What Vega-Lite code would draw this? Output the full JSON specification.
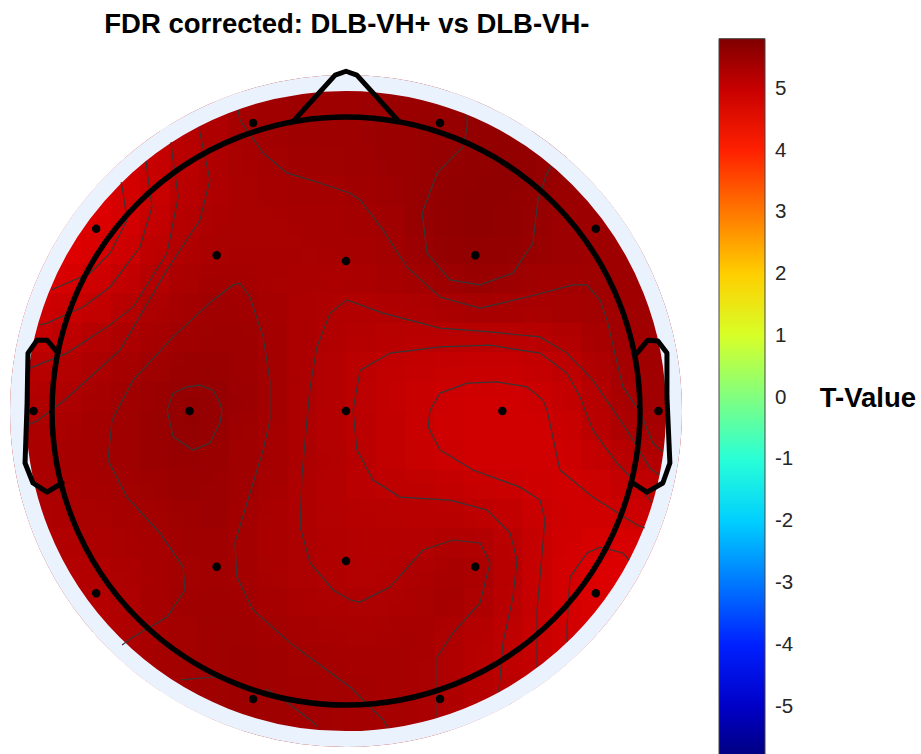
{
"$schema": "https://vega.github.io/schema/vega-lite/v6.json",
"width": 676, "height": 676,
"autosize": {"type": "none"},
"padding": {"left": 8, "top": 73, "right": 237, "bottom": 5},
"background": "white",
"config": {"view": {"stroke": null}},
"datasets": {
"center": [{"x": 0, "y": 0}],
"lab": [{"txt": "T-Value", "x": 1.612, "y": 0.0136}],
"ttl": [{"txt": "FDR corrected: DLB-VH+ vs DLB-VH-", "x": 0.003, "y": 1.2857}],
"heat": [
{"x":-0.3,"y":1.1,"t":5.42},{"x":-0.2,"y":1.1,"t":5.44},{"x":-0.1,"y":1.1,"t":5.46},{"x":0,"y":1.1,"t":5.47},{"x":0.1,"y":1.1,"t":5.48},{"x":0.2,"y":1.1,"t":5.5},{"x":0.3,"y":1.1,"t":5.52},
{"x":-0.5,"y":1,"t":5.25},{"x":-0.4,"y":1,"t":5.32},{"x":-0.3,"y":1,"t":5.42},{"x":-0.2,"y":1,"t":5.44},{"x":-0.1,"y":1,"t":5.46},{"x":0,"y":1,"t":5.47},{"x":0.1,"y":1,"t":5.48},{"x":0.2,"y":1,"t":5.5},{"x":0.3,"y":1,"t":5.52},{"x":0.4,"y":1,"t":5.55},{"x":0.5,"y":1,"t":5.58},
{"x":-0.7,"y":0.9,"t":4.95},{"x":-0.6,"y":0.9,"t":5.08},{"x":-0.5,"y":0.9,"t":5.22},{"x":-0.4,"y":0.9,"t":5.32},{"x":-0.3,"y":0.9,"t":5.4},{"x":-0.2,"y":0.9,"t":5.44},{"x":-0.1,"y":0.9,"t":5.46},{"x":0,"y":0.9,"t":5.47},{"x":0.1,"y":0.9,"t":5.48},{"x":0.2,"y":0.9,"t":5.5},{"x":0.3,"y":0.9,"t":5.52},{"x":0.4,"y":0.9,"t":5.55},{"x":0.5,"y":0.9,"t":5.59},{"x":0.6,"y":0.9,"t":5.6},{"x":0.7,"y":0.9,"t":5.52},
{"x":-0.8,"y":0.8,"t":4.8},{"x":-0.7,"y":0.8,"t":4.88},{"x":-0.6,"y":0.8,"t":5.05},{"x":-0.5,"y":0.8,"t":5.18},{"x":-0.4,"y":0.8,"t":5.3},{"x":-0.3,"y":0.8,"t":5.35},{"x":-0.2,"y":0.8,"t":5.4},{"x":-0.1,"y":0.8,"t":5.43},{"x":0,"y":0.8,"t":5.44},{"x":0.1,"y":0.8,"t":5.46},{"x":0.2,"y":0.8,"t":5.5},{"x":0.3,"y":0.8,"t":5.55},{"x":0.4,"y":0.8,"t":5.6},{"x":0.5,"y":0.8,"t":5.62},{"x":0.6,"y":0.8,"t":5.61},{"x":0.7,"y":0.8,"t":5.55},{"x":0.8,"y":0.8,"t":5.5},
{"x":-0.9,"y":0.7,"t":4.66},{"x":-0.8,"y":0.7,"t":4.75},{"x":-0.7,"y":0.7,"t":4.87},{"x":-0.6,"y":0.7,"t":5.05},{"x":-0.5,"y":0.7,"t":5.22},{"x":-0.4,"y":0.7,"t":5.3},{"x":-0.3,"y":0.7,"t":5.33},{"x":-0.2,"y":0.7,"t":5.35},{"x":-0.1,"y":0.7,"t":5.36},{"x":0,"y":0.7,"t":5.37},{"x":0.1,"y":0.7,"t":5.43},{"x":0.2,"y":0.7,"t":5.48},{"x":0.3,"y":0.7,"t":5.57},{"x":0.4,"y":0.7,"t":5.62},{"x":0.5,"y":0.7,"t":5.62},{"x":0.6,"y":0.7,"t":5.6},{"x":0.7,"y":0.7,"t":5.52},{"x":0.8,"y":0.7,"t":5.48},{"x":0.9,"y":0.7,"t":5.45},
{"x":-1,"y":0.6,"t":4.68},{"x":-0.9,"y":0.6,"t":4.72},{"x":-0.8,"y":0.6,"t":4.78},{"x":-0.7,"y":0.6,"t":4.93},{"x":-0.6,"y":0.6,"t":5.1},{"x":-0.5,"y":0.6,"t":5.27},{"x":-0.4,"y":0.6,"t":5.33},{"x":-0.3,"y":0.6,"t":5.34},{"x":-0.2,"y":0.6,"t":5.34},{"x":-0.1,"y":0.6,"t":5.35},{"x":0,"y":0.6,"t":5.36},{"x":0.1,"y":0.6,"t":5.39},{"x":0.2,"y":0.6,"t":5.45},{"x":0.3,"y":0.6,"t":5.56},{"x":0.4,"y":0.6,"t":5.61},{"x":0.5,"y":0.6,"t":5.61},{"x":0.6,"y":0.6,"t":5.57},{"x":0.7,"y":0.6,"t":5.5},{"x":0.8,"y":0.6,"t":5.47},{"x":0.9,"y":0.6,"t":5.45},{"x":1,"y":0.6,"t":5.44},
{"x":-1,"y":0.5,"t":4.7},{"x":-0.9,"y":0.5,"t":4.76},{"x":-0.8,"y":0.5,"t":4.85},{"x":-0.7,"y":0.5,"t":5.0},{"x":-0.6,"y":0.5,"t":5.2},{"x":-0.5,"y":0.5,"t":5.32},{"x":-0.4,"y":0.5,"t":5.35},{"x":-0.3,"y":0.5,"t":5.35},{"x":-0.2,"y":0.5,"t":5.35},{"x":-0.1,"y":0.5,"t":5.34},{"x":0,"y":0.5,"t":5.34},{"x":0.1,"y":0.5,"t":5.36},{"x":0.2,"y":0.5,"t":5.4},{"x":0.3,"y":0.5,"t":5.52},{"x":0.4,"y":0.5,"t":5.58},{"x":0.5,"y":0.5,"t":5.59},{"x":0.6,"y":0.5,"t":5.55},{"x":0.7,"y":0.5,"t":5.5},{"x":0.8,"y":0.5,"t":5.47},{"x":0.9,"y":0.5,"t":5.45},{"x":1,"y":0.5,"t":5.45},
{"x":-1.1,"y":0.4,"t":4.8},{"x":-1,"y":0.4,"t":4.83},{"x":-0.9,"y":0.4,"t":4.9},{"x":-0.8,"y":0.4,"t":5.0},{"x":-0.7,"y":0.4,"t":5.15},{"x":-0.6,"y":0.4,"t":5.3},{"x":-0.5,"y":0.4,"t":5.36},{"x":-0.4,"y":0.4,"t":5.4},{"x":-0.3,"y":0.4,"t":5.36},{"x":-0.2,"y":0.4,"t":5.32},{"x":-0.1,"y":0.4,"t":5.3},{"x":0,"y":0.4,"t":5.27},{"x":0.1,"y":0.4,"t":5.3},{"x":0.2,"y":0.4,"t":5.33},{"x":0.3,"y":0.4,"t":5.39},{"x":0.4,"y":0.4,"t":5.45},{"x":0.5,"y":0.4,"t":5.47},{"x":0.6,"y":0.4,"t":5.42},{"x":0.7,"y":0.4,"t":5.38},{"x":0.8,"y":0.4,"t":5.4},{"x":0.9,"y":0.4,"t":5.45},{"x":1,"y":0.4,"t":5.46},{"x":1.1,"y":0.4,"t":5.46},
{"x":-1.1,"y":0.3,"t":4.93},{"x":-1,"y":0.3,"t":4.97},{"x":-0.9,"y":0.3,"t":5.03},{"x":-0.8,"y":0.3,"t":5.12},{"x":-0.7,"y":0.3,"t":5.28},{"x":-0.6,"y":0.3,"t":5.35},{"x":-0.5,"y":0.3,"t":5.41},{"x":-0.4,"y":0.3,"t":5.45},{"x":-0.3,"y":0.3,"t":5.4},{"x":-0.2,"y":0.3,"t":5.33},{"x":-0.1,"y":0.3,"t":5.28},{"x":0,"y":0.3,"t":5.22},{"x":0.1,"y":0.3,"t":5.22},{"x":0.2,"y":0.3,"t":5.24},{"x":0.3,"y":0.3,"t":5.25},{"x":0.4,"y":0.3,"t":5.3},{"x":0.5,"y":0.3,"t":5.32},{"x":0.6,"y":0.3,"t":5.3},{"x":0.7,"y":0.3,"t":5.32},{"x":0.8,"y":0.3,"t":5.36},{"x":0.9,"y":0.3,"t":5.4},{"x":1,"y":0.3,"t":5.44},{"x":1.1,"y":0.3,"t":5.45},
{"x":-1.1,"y":0.2,"t":5.05},{"x":-1,"y":0.2,"t":5.08},{"x":-0.9,"y":0.2,"t":5.18},{"x":-0.8,"y":0.2,"t":5.29},{"x":-0.7,"y":0.2,"t":5.35},{"x":-0.6,"y":0.2,"t":5.42},{"x":-0.5,"y":0.2,"t":5.47},{"x":-0.4,"y":0.2,"t":5.48},{"x":-0.3,"y":0.2,"t":5.45},{"x":-0.2,"y":0.2,"t":5.35},{"x":-0.1,"y":0.2,"t":5.26},{"x":0,"y":0.2,"t":5.2},{"x":0.1,"y":0.2,"t":5.17},{"x":0.2,"y":0.2,"t":5.12},{"x":0.3,"y":0.2,"t":5.1},{"x":0.4,"y":0.2,"t":5.08},{"x":0.5,"y":0.2,"t":5.08},{"x":0.6,"y":0.2,"t":5.09},{"x":0.7,"y":0.2,"t":5.1},{"x":0.8,"y":0.2,"t":5.22},{"x":0.9,"y":0.2,"t":5.38},{"x":1,"y":0.2,"t":5.44},{"x":1.1,"y":0.2,"t":5.45},
{"x":-1.1,"y":0.1,"t":5.17},{"x":-1,"y":0.1,"t":5.2},{"x":-0.9,"y":0.1,"t":5.28},{"x":-0.8,"y":0.1,"t":5.35},{"x":-0.7,"y":0.1,"t":5.42},{"x":-0.6,"y":0.1,"t":5.5},{"x":-0.5,"y":0.1,"t":5.55},{"x":-0.4,"y":0.1,"t":5.5},{"x":-0.3,"y":0.1,"t":5.44},{"x":-0.2,"y":0.1,"t":5.36},{"x":-0.1,"y":0.1,"t":5.25},{"x":0,"y":0.1,"t":5.18},{"x":0.1,"y":0.1,"t":5.05},{"x":0.2,"y":0.1,"t":5.0},{"x":0.3,"y":0.1,"t":4.97},{"x":0.4,"y":0.1,"t":4.95},{"x":0.5,"y":0.1,"t":4.95},{"x":0.6,"y":0.1,"t":4.95},{"x":0.7,"y":0.1,"t":5.02},{"x":0.8,"y":0.1,"t":5.1},{"x":0.9,"y":0.1,"t":5.32},{"x":1,"y":0.1,"t":5.42},{"x":1.1,"y":0.1,"t":5.44},
{"x":-1.1,"y":0,"t":5.24},{"x":-1,"y":0,"t":5.27},{"x":-0.9,"y":0,"t":5.32},{"x":-0.8,"y":0,"t":5.4},{"x":-0.7,"y":0,"t":5.45},{"x":-0.6,"y":0,"t":5.55},{"x":-0.5,"y":0,"t":5.6},{"x":-0.4,"y":0,"t":5.52},{"x":-0.3,"y":0,"t":5.45},{"x":-0.2,"y":0,"t":5.35},{"x":-0.1,"y":0,"t":5.26},{"x":0,"y":0,"t":5.18},{"x":0.1,"y":0,"t":5.07},{"x":0.2,"y":0,"t":5.0},{"x":0.3,"y":0,"t":4.95},{"x":0.4,"y":0,"t":4.88},{"x":0.5,"y":0,"t":4.86},{"x":0.6,"y":0,"t":4.88},{"x":0.7,"y":0,"t":4.95},{"x":0.8,"y":0,"t":5.05},{"x":0.9,"y":0,"t":5.24},{"x":1,"y":0,"t":5.4},{"x":1.1,"y":0,"t":5.43},
{"x":-1.1,"y":-0.1,"t":5.3},{"x":-1,"y":-0.1,"t":5.32},{"x":-0.9,"y":-0.1,"t":5.36},{"x":-0.8,"y":-0.1,"t":5.4},{"x":-0.7,"y":-0.1,"t":5.47},{"x":-0.6,"y":-0.1,"t":5.55},{"x":-0.5,"y":-0.1,"t":5.57},{"x":-0.4,"y":-0.1,"t":5.5},{"x":-0.3,"y":-0.1,"t":5.42},{"x":-0.2,"y":-0.1,"t":5.34},{"x":-0.1,"y":-0.1,"t":5.24},{"x":0,"y":-0.1,"t":5.17},{"x":0.1,"y":-0.1,"t":5.08},{"x":0.2,"y":-0.1,"t":5.02},{"x":0.3,"y":-0.1,"t":4.95},{"x":0.4,"y":-0.1,"t":4.88},{"x":0.5,"y":-0.1,"t":4.87},{"x":0.6,"y":-0.1,"t":4.88},{"x":0.7,"y":-0.1,"t":4.9},{"x":0.8,"y":-0.1,"t":5.0},{"x":0.9,"y":-0.1,"t":5.2},{"x":1,"y":-0.1,"t":5.32},{"x":1.1,"y":-0.1,"t":5.38},
{"x":-1.1,"y":-0.2,"t":5.3},{"x":-1,"y":-0.2,"t":5.33},{"x":-0.9,"y":-0.2,"t":5.36},{"x":-0.8,"y":-0.2,"t":5.4},{"x":-0.7,"y":-0.2,"t":5.46},{"x":-0.6,"y":-0.2,"t":5.5},{"x":-0.5,"y":-0.2,"t":5.52},{"x":-0.4,"y":-0.2,"t":5.48},{"x":-0.3,"y":-0.2,"t":5.4},{"x":-0.2,"y":-0.2,"t":5.33},{"x":-0.1,"y":-0.2,"t":5.26},{"x":0,"y":-0.2,"t":5.2},{"x":0.1,"y":-0.2,"t":5.1},{"x":0.2,"y":-0.2,"t":5.02},{"x":0.3,"y":-0.2,"t":4.97},{"x":0.4,"y":-0.2,"t":4.93},{"x":0.5,"y":-0.2,"t":4.9},{"x":0.6,"y":-0.2,"t":4.88},{"x":0.7,"y":-0.2,"t":4.88},{"x":0.8,"y":-0.2,"t":4.93},{"x":0.9,"y":-0.2,"t":5.05},{"x":1,"y":-0.2,"t":5.15},{"x":1.1,"y":-0.2,"t":5.2},
{"x":-1.1,"y":-0.3,"t":5.28},{"x":-1,"y":-0.3,"t":5.3},{"x":-0.9,"y":-0.3,"t":5.33},{"x":-0.8,"y":-0.3,"t":5.37},{"x":-0.7,"y":-0.3,"t":5.4},{"x":-0.6,"y":-0.3,"t":5.46},{"x":-0.5,"y":-0.3,"t":5.5},{"x":-0.4,"y":-0.3,"t":5.48},{"x":-0.3,"y":-0.3,"t":5.4},{"x":-0.2,"y":-0.3,"t":5.3},{"x":-0.1,"y":-0.3,"t":5.23},{"x":0,"y":-0.3,"t":5.18},{"x":0.1,"y":-0.3,"t":5.12},{"x":0.2,"y":-0.3,"t":5.1},{"x":0.3,"y":-0.3,"t":5.1},{"x":0.4,"y":-0.3,"t":5.05},{"x":0.5,"y":-0.3,"t":5.02},{"x":0.6,"y":-0.3,"t":4.97},{"x":0.7,"y":-0.3,"t":4.9},{"x":0.8,"y":-0.3,"t":4.88},{"x":0.9,"y":-0.3,"t":4.93},{"x":1,"y":-0.3,"t":5.0},{"x":1.1,"y":-0.3,"t":5.03},
{"x":-1.1,"y":-0.4,"t":5.25},{"x":-1,"y":-0.4,"t":5.27},{"x":-0.9,"y":-0.4,"t":5.3},{"x":-0.8,"y":-0.4,"t":5.33},{"x":-0.7,"y":-0.4,"t":5.37},{"x":-0.6,"y":-0.4,"t":5.4},{"x":-0.5,"y":-0.4,"t":5.45},{"x":-0.4,"y":-0.4,"t":5.45},{"x":-0.3,"y":-0.4,"t":5.35},{"x":-0.2,"y":-0.4,"t":5.3},{"x":-0.1,"y":-0.4,"t":5.25},{"x":0,"y":-0.4,"t":5.22},{"x":0.1,"y":-0.4,"t":5.2},{"x":0.2,"y":-0.4,"t":5.2},{"x":0.3,"y":-0.4,"t":5.17},{"x":0.4,"y":-0.4,"t":5.18},{"x":0.5,"y":-0.4,"t":5.12},{"x":0.6,"y":-0.4,"t":5.05},{"x":0.7,"y":-0.4,"t":4.95},{"x":0.8,"y":-0.4,"t":4.88},{"x":0.9,"y":-0.4,"t":4.88},{"x":1,"y":-0.4,"t":4.92},{"x":1.1,"y":-0.4,"t":4.95},
{"x":-1,"y":-0.5,"t":5.22},{"x":-0.9,"y":-0.5,"t":5.24},{"x":-0.8,"y":-0.5,"t":5.3},{"x":-0.7,"y":-0.5,"t":5.35},{"x":-0.6,"y":-0.5,"t":5.38},{"x":-0.5,"y":-0.5,"t":5.43},{"x":-0.4,"y":-0.5,"t":5.42},{"x":-0.3,"y":-0.5,"t":5.35},{"x":-0.2,"y":-0.5,"t":5.3},{"x":-0.1,"y":-0.5,"t":5.26},{"x":0,"y":-0.5,"t":5.22},{"x":0.1,"y":-0.5,"t":5.2},{"x":0.2,"y":-0.5,"t":5.22},{"x":0.3,"y":-0.5,"t":5.25},{"x":0.4,"y":-0.5,"t":5.33},{"x":0.5,"y":-0.5,"t":5.25},{"x":0.6,"y":-0.5,"t":5.1},{"x":0.7,"y":-0.5,"t":4.95},{"x":0.8,"y":-0.5,"t":4.82},{"x":0.9,"y":-0.5,"t":4.78},{"x":1,"y":-0.5,"t":4.75},
{"x":-1,"y":-0.6,"t":5.18},{"x":-0.9,"y":-0.6,"t":5.2},{"x":-0.8,"y":-0.6,"t":5.25},{"x":-0.7,"y":-0.6,"t":5.32},{"x":-0.6,"y":-0.6,"t":5.38},{"x":-0.5,"y":-0.6,"t":5.42},{"x":-0.4,"y":-0.6,"t":5.42},{"x":-0.3,"y":-0.6,"t":5.36},{"x":-0.2,"y":-0.6,"t":5.32},{"x":-0.1,"y":-0.6,"t":5.28},{"x":0,"y":-0.6,"t":5.24},{"x":0.1,"y":-0.6,"t":5.22},{"x":0.2,"y":-0.6,"t":5.28},{"x":0.3,"y":-0.6,"t":5.35},{"x":0.4,"y":-0.6,"t":5.37},{"x":0.5,"y":-0.6,"t":5.27},{"x":0.6,"y":-0.6,"t":5.08},{"x":0.7,"y":-0.6,"t":4.93},{"x":0.8,"y":-0.6,"t":4.78},{"x":0.9,"y":-0.6,"t":4.72},{"x":1,"y":-0.6,"t":4.7},
{"x":-0.9,"y":-0.7,"t":5.15},{"x":-0.8,"y":-0.7,"t":5.2},{"x":-0.7,"y":-0.7,"t":5.3},{"x":-0.6,"y":-0.7,"t":5.4},{"x":-0.5,"y":-0.7,"t":5.44},{"x":-0.4,"y":-0.7,"t":5.45},{"x":-0.3,"y":-0.7,"t":5.4},{"x":-0.2,"y":-0.7,"t":5.35},{"x":-0.1,"y":-0.7,"t":5.32},{"x":0,"y":-0.7,"t":5.3},{"x":0.1,"y":-0.7,"t":5.3},{"x":0.2,"y":-0.7,"t":5.32},{"x":0.3,"y":-0.7,"t":5.35},{"x":0.4,"y":-0.7,"t":5.33},{"x":0.5,"y":-0.7,"t":5.2},{"x":0.6,"y":-0.7,"t":5.1},{"x":0.7,"y":-0.7,"t":4.92},{"x":0.8,"y":-0.7,"t":4.8},{"x":0.9,"y":-0.7,"t":4.75},
{"x":-0.8,"y":-0.8,"t":5.22},{"x":-0.7,"y":-0.8,"t":5.3},{"x":-0.6,"y":-0.8,"t":5.38},{"x":-0.5,"y":-0.8,"t":5.42},{"x":-0.4,"y":-0.8,"t":5.45},{"x":-0.3,"y":-0.8,"t":5.43},{"x":-0.2,"y":-0.8,"t":5.4},{"x":-0.1,"y":-0.8,"t":5.36},{"x":0,"y":-0.8,"t":5.34},{"x":0.1,"y":-0.8,"t":5.34},{"x":0.2,"y":-0.8,"t":5.36},{"x":0.3,"y":-0.8,"t":5.33},{"x":0.4,"y":-0.8,"t":5.22},{"x":0.5,"y":-0.8,"t":5.15},{"x":0.6,"y":-0.8,"t":5.05},{"x":0.7,"y":-0.8,"t":4.93},{"x":0.8,"y":-0.8,"t":4.85},
{"x":-0.7,"y":-0.9,"t":5.35},{"x":-0.6,"y":-0.9,"t":5.4},{"x":-0.5,"y":-0.9,"t":5.42},{"x":-0.4,"y":-0.9,"t":5.45},{"x":-0.3,"y":-0.9,"t":5.45},{"x":-0.2,"y":-0.9,"t":5.42},{"x":-0.1,"y":-0.9,"t":5.4},{"x":0,"y":-0.9,"t":5.38},{"x":0.1,"y":-0.9,"t":5.37},{"x":0.2,"y":-0.9,"t":5.37},{"x":0.3,"y":-0.9,"t":5.32},{"x":0.4,"y":-0.9,"t":5.23},{"x":0.5,"y":-0.9,"t":5.15},{"x":0.6,"y":-0.9,"t":5.08},{"x":0.7,"y":-0.9,"t":5.0},
{"x":-0.5,"y":-1,"t":5.42},{"x":-0.4,"y":-1,"t":5.45},{"x":-0.3,"y":-1,"t":5.46},{"x":-0.2,"y":-1,"t":5.44},{"x":-0.1,"y":-1,"t":5.42},{"x":0,"y":-1,"t":5.4},{"x":0.1,"y":-1,"t":5.38},{"x":0.2,"y":-1,"t":5.36},{"x":0.3,"y":-1,"t":5.3},{"x":0.4,"y":-1,"t":5.24},{"x":0.5,"y":-1,"t":5.18},
{"x":-0.3,"y":-1.1,"t":5.45},{"x":-0.2,"y":-1.1,"t":5.44},{"x":-0.1,"y":-1.1,"t":5.42},{"x":0,"y":-1.1,"t":5.4},{"x":0.1,"y":-1.1,"t":5.38},{"x":0.2,"y":-1.1,"t":5.35},{"x":0.3,"y":-1.1,"t":5.3}
],
"contours": [
{"c":"L1","i":0,"x":-1.003,"y":0.412},{"c":"L1","i":1,"x":-0.98,"y":0.422},{"c":"L1","i":2,"x":-0.871,"y":0.469},{"c":"L1","i":3,"x":-0.803,"y":0.537},{"c":"L1","i":4,"x":-0.745,"y":0.65},{"c":"L1","i":5,"x":-0.759,"y":0.745},{"c":"L1","i":6,"x":-0.765,"y":0.779},
{"c":"L2","i":0,"x":-1.044,"y":0.293},{"c":"L2","i":1,"x":-1.017,"y":0.299},{"c":"L2","i":2,"x":-0.895,"y":0.354},{"c":"L2","i":3,"x":-0.803,"y":0.422},{"c":"L2","i":4,"x":-0.701,"y":0.558},{"c":"L2","i":5,"x":-0.66,"y":0.694},{"c":"L2","i":6,"x":-0.677,"y":0.82},{"c":"L2","i":7,"x":-0.68,"y":0.85},
{"c":"L3","i":0,"x":-1.075,"y":0.146},{"c":"L3","i":1,"x":-0.949,"y":0.197},{"c":"L3","i":2,"x":-0.803,"y":0.293},{"c":"L3","i":3,"x":-0.724,"y":0.354},{"c":"L3","i":4,"x":-0.609,"y":0.537},{"c":"L3","i":5,"x":-0.571,"y":0.728},{"c":"L3","i":6,"x":-0.592,"y":0.881},{"c":"L3","i":7,"x":-0.595,"y":0.915},
{"c":"L4","i":0,"x":-1.085,"y":-0.048},{"c":"L4","i":1,"x":-1.051,"y":-0.034},{"c":"L4","i":2,"x":-0.949,"y":0.044},{"c":"L4","i":3,"x":-0.769,"y":0.207},{"c":"L4","i":4,"x":-0.609,"y":0.48},{"c":"L4","i":5,"x":-0.497,"y":0.65},{"c":"L4","i":6,"x":-0.463,"y":0.786},{"c":"L4","i":7,"x":-0.497,"y":0.946},{"c":"L4","i":8,"x":-0.5,"y":0.966},
{"c":"A","i":0,"x":-0.367,"y":1.024},{"c":"A","i":1,"x":-0.361,"y":0.99},{"c":"A","i":2,"x":-0.282,"y":0.878},{"c":"A","i":3,"x":-0.201,"y":0.81},{"c":"A","i":4,"x":-0.099,"y":0.779},{"c":"A","i":5,"x":0.014,"y":0.741},{"c":"A","i":6,"x":0.048,"y":0.718},{"c":"A","i":7,"x":0.126,"y":0.616},{"c":"A","i":8,"x":0.207,"y":0.49},{"c":"A","i":9,"x":0.32,"y":0.388},{"c":"A","i":10,"x":0.456,"y":0.35},{"c":"A","i":11,"x":0.616,"y":0.388},{"c":"A","i":12,"x":0.772,"y":0.429},{"c":"A","i":13,"x":0.82,"y":0.429},{"c":"A","i":14,"x":0.864,"y":0.378},{"c":"A","i":15,"x":0.888,"y":0.31},{"c":"A","i":16,"x":0.942,"y":0.082},{"c":"A","i":17,"x":1.0,"y":-0.003},{"c":"A","i":18,"x":1.044,"y":-0.109},{"c":"A","i":19,"x":1.078,"y":-0.139},
{"c":"B","i":0,"x":1.065,"y":-0.218},{"c":"B","i":1,"x":1.034,"y":-0.194},{"c":"B","i":2,"x":0.956,"y":-0.065},{"c":"B","i":3,"x":0.84,"y":0.105},{"c":"B","i":4,"x":0.752,"y":0.197},{"c":"B","i":5,"x":0.66,"y":0.252},{"c":"B","i":6,"x":0.49,"y":0.269},{"c":"B","i":7,"x":0.32,"y":0.282},{"c":"B","i":8,"x":0.126,"y":0.333},{"c":"B","i":9,"x":0.003,"y":0.378},{"c":"B","i":10,"x":-0.054,"y":0.333},{"c":"B","i":11,"x":-0.099,"y":0.218},{"c":"B","i":12,"x":-0.122,"y":0.082},{"c":"B","i":13,"x":-0.133,"y":-0.031},{"c":"B","i":14,"x":-0.15,"y":-0.224},{"c":"B","i":15,"x":-0.156,"y":-0.395},{"c":"B","i":16,"x":-0.122,"y":-0.517},{"c":"B","i":17,"x":-0.044,"y":-0.609},{"c":"B","i":18,"x":0.014,"y":-0.643},{"c":"B","i":19,"x":0.048,"y":-0.65},{"c":"B","i":20,"x":0.15,"y":-0.599},{"c":"B","i":21,"x":0.262,"y":-0.473},{"c":"B","i":22,"x":0.364,"y":-0.439},{"c":"B","i":23,"x":0.456,"y":-0.449},{"c":"B","i":24,"x":0.49,"y":-0.517},{"c":"B","i":25,"x":0.456,"y":-0.653},{"c":"B","i":26,"x":0.364,"y":-0.755},{"c":"B","i":27,"x":0.31,"y":-0.837},{"c":"B","i":28,"x":0.31,"y":-0.939},{"c":"B","i":29,"x":0.31,"y":-1.044},
{"c":"C","i":0,"x":1.041,"y":-0.313},{"c":"C","i":1,"x":1.01,"y":-0.269},{"c":"C","i":2,"x":0.922,"y":-0.177},{"c":"C","i":3,"x":0.84,"y":-0.065},{"c":"C","i":4,"x":0.796,"y":0.048},{"c":"C","i":5,"x":0.752,"y":0.129},{"c":"C","i":6,"x":0.66,"y":0.197},{"c":"C","i":7,"x":0.49,"y":0.224},{"c":"C","i":8,"x":0.32,"y":0.218},{"c":"C","i":9,"x":0.15,"y":0.197},{"c":"C","i":10,"x":0.048,"y":0.139},{"c":"C","i":11,"x":0.024,"y":0.003},{"c":"C","i":12,"x":0.037,"y":-0.133},{"c":"C","i":13,"x":0.092,"y":-0.235},{"c":"C","i":14,"x":0.184,"y":-0.293},{"c":"C","i":15,"x":0.354,"y":-0.303},{"c":"C","i":16,"x":0.48,"y":-0.337},{"c":"C","i":17,"x":0.558,"y":-0.415},{"c":"C","i":18,"x":0.582,"y":-0.507},{"c":"C","i":19,"x":0.568,"y":-0.633},{"c":"C","i":20,"x":0.534,"y":-0.789},{"c":"C","i":21,"x":0.52,"y":-0.956},
{"c":"D","i":0,"x":1.017,"y":-0.398},{"c":"D","i":1,"x":0.99,"y":-0.388},{"c":"D","i":2,"x":0.84,"y":-0.293},{"c":"D","i":3,"x":0.728,"y":-0.201},{"c":"D","i":4,"x":0.684,"y":0.003},{"c":"D","i":5,"x":0.67,"y":0.037},{"c":"D","i":6,"x":0.616,"y":0.082},{"c":"D","i":7,"x":0.514,"y":0.099},{"c":"D","i":8,"x":0.412,"y":0.095},{"c":"D","i":9,"x":0.32,"y":0.061},{"c":"D","i":10,"x":0.286,"y":0.003},{"c":"D","i":11,"x":0.279,"y":-0.054},{"c":"D","i":12,"x":0.32,"y":-0.133},{"c":"D","i":13,"x":0.432,"y":-0.201},{"c":"D","i":14,"x":0.592,"y":-0.259},{"c":"D","i":15,"x":0.66,"y":-0.303},{"c":"D","i":16,"x":0.677,"y":-0.371},{"c":"D","i":17,"x":0.66,"y":-0.565},{"c":"D","i":18,"x":0.65,"y":-0.677},{"c":"D","i":19,"x":0.65,"y":-0.871},
{"c":"E","i":0,"x":0.752,"y":-0.786},{"c":"E","i":1,"x":0.752,"y":-0.735},{"c":"E","i":2,"x":0.762,"y":-0.565},{"c":"E","i":3,"x":0.82,"y":-0.483},{"c":"E","i":4,"x":0.864,"y":-0.463},{"c":"E","i":5,"x":0.942,"y":-0.483},{"c":"E","i":6,"x":0.963,"y":-0.507},
{"c":"F","i":0,"x":0.412,"y":1.007},{"c":"F","i":1,"x":0.412,"y":0.966},{"c":"F","i":2,"x":0.398,"y":0.898},{"c":"F","i":3,"x":0.31,"y":0.81},{"c":"F","i":4,"x":0.259,"y":0.673},{"c":"F","i":5,"x":0.276,"y":0.537},{"c":"F","i":6,"x":0.354,"y":0.446},{"c":"F","i":7,"x":0.456,"y":0.429},{"c":"F","i":8,"x":0.568,"y":0.469},{"c":"F","i":9,"x":0.636,"y":0.571},{"c":"F","i":10,"x":0.653,"y":0.718},{"c":"F","i":11,"x":0.684,"y":0.81},{"c":"F","i":12,"x":0.697,"y":0.833},
{"c":"G","i":0,"x":-0.609,"y":0.003},{"c":"G","i":1,"x":-0.588,"y":0.061},{"c":"G","i":2,"x":-0.541,"y":0.082},{"c":"G","i":3,"x":-0.497,"y":0.088},{"c":"G","i":4,"x":-0.452,"y":0.071},{"c":"G","i":5,"x":-0.429,"y":0.027},{"c":"G","i":6,"x":-0.422,"y":0.003},{"c":"G","i":7,"x":-0.429,"y":-0.041},{"c":"G","i":8,"x":-0.463,"y":-0.109},{"c":"G","i":9,"x":-0.52,"y":-0.133},{"c":"G","i":10,"x":-0.588,"y":-0.088},{"c":"G","i":11,"x":-0.609,"y":0.003},
{"c":"H","i":0,"x":-0.762,"y":-0.796},{"c":"H","i":1,"x":-0.724,"y":-0.769},{"c":"H","i":2,"x":-0.609,"y":-0.701},{"c":"H","i":3,"x":-0.548,"y":-0.609},{"c":"H","i":4,"x":-0.554,"y":-0.531},{"c":"H","i":5,"x":-0.633,"y":-0.415},{"c":"H","i":6,"x":-0.745,"y":-0.293},{"c":"H","i":7,"x":-0.81,"y":-0.167},{"c":"H","i":8,"x":-0.796,"y":-0.031},{"c":"H","i":9,"x":-0.724,"y":0.105},{"c":"H","i":10,"x":-0.588,"y":0.252},{"c":"H","i":11,"x":-0.452,"y":0.378},{"c":"H","i":12,"x":-0.384,"y":0.429},{"c":"H","i":13,"x":-0.361,"y":0.435},{"c":"H","i":14,"x":-0.327,"y":0.388},{"c":"H","i":15,"x":-0.282,"y":0.252},{"c":"H","i":16,"x":-0.259,"y":0.105},{"c":"H","i":17,"x":-0.259,"y":-0.031},{"c":"H","i":18,"x":-0.282,"y":-0.133},{"c":"H","i":19,"x":-0.337,"y":-0.313},{"c":"H","i":20,"x":-0.378,"y":-0.449},{"c":"H","i":21,"x":-0.371,"y":-0.565},{"c":"H","i":22,"x":-0.316,"y":-0.677},{"c":"H","i":23,"x":-0.19,"y":-0.789},{"c":"H","i":24,"x":-0.065,"y":-0.881},{"c":"H","i":25,"x":0.014,"y":-0.939},{"c":"H","i":26,"x":0.126,"y":-1.051},{"c":"H","i":27,"x":0.143,"y":-1.078},
{"c":"S1","i":0,"x":-0.558,"y":-0.915},{"c":"S1","i":1,"x":-0.452,"y":-0.905},{"c":"S1","i":2,"x":-0.408,"y":-0.915},
{"c":"S2","i":0,"x":-0.275,"y":-0.945},{"c":"S2","i":1,"x":-0.224,"y":-0.973},{"c":"S2","i":2,"x":-0.122,"y":-1.051},{"c":"S2","i":3,"x":-0.095,"y":-1.075}
],
"head": [
{"p":"nose","i":0,"x":-0.18,"y":0.985},{"p":"nose","i":1,"x":-0.037,"y":1.143},{"p":"nose","i":2,"x":0,"y":1.156},{"p":"nose","i":3,"x":0.037,"y":1.143},{"p":"nose","i":4,"x":0.18,"y":0.985},
{"p":"earL","i":0,"x":-0.98,"y":0.197},{"p":"earL","i":1,"x":-1.017,"y":0.241},{"p":"earL","i":2,"x":-1.051,"y":0.241},{"p":"earL","i":3,"x":-1.082,"y":0.197},{"p":"earL","i":4,"x":-1.085,"y":0.027},{"p":"earL","i":5,"x":-1.092,"y":-0.177},{"p":"earL","i":6,"x":-1.065,"y":-0.245},{"p":"earL","i":7,"x":-1.017,"y":-0.276},{"p":"earL","i":8,"x":-0.966,"y":-0.245},
{"p":"earR","i":0,"x":0.99,"y":0.197},{"p":"earR","i":1,"x":1.027,"y":0.241},{"p":"earR","i":2,"x":1.061,"y":0.238},{"p":"earR","i":3,"x":1.092,"y":0.197},{"p":"earR","i":4,"x":1.092,"y":0.048},{"p":"earR","i":5,"x":1.102,"y":-0.177},{"p":"earR","i":6,"x":1.078,"y":-0.245},{"p":"earR","i":7,"x":1.024,"y":-0.276},{"p":"earR","i":8,"x":0.976,"y":-0.245}
],
"elec": [
{"n":"Fp1","x":-0.316,"y":0.98},{"n":"Fp2","x":0.32,"y":0.98},
{"n":"F7","x":-0.85,"y":0.62},{"n":"F3","x":-0.44,"y":0.53},{"n":"Fz","x":0,"y":0.51},{"n":"F4","x":0.44,"y":0.53},{"n":"F8","x":0.85,"y":0.62},
{"n":"T3","x":-1.063,"y":0},{"n":"C3","x":-0.532,"y":0},{"n":"Cz","x":0,"y":0},{"n":"C4","x":0.532,"y":0},{"n":"T4","x":1.063,"y":0},
{"n":"T5","x":-0.85,"y":-0.62},{"n":"P3","x":-0.44,"y":-0.53},{"n":"Pz","x":0,"y":-0.51},{"n":"P4","x":0.44,"y":-0.53},{"n":"T6","x":0.85,"y":-0.62},
{"n":"O1","x":-0.316,"y":-0.98},{"n":"O2","x":0.32,"y":-0.98}
]
},
"encoding": {
"x": {"field": "x", "type": "quantitative", "scale": {"domain": [-1.15, 1.15], "nice": false, "zero": false}, "axis": null},
"y": {"field": "y", "type": "quantitative", "scale": {"domain": [-1.15, 1.15], "nice": false, "zero": false}, "axis": null}
},
"layer": [
{"data": {"name": "center"}, "mark": {"type": "point", "shape": "circle", "filled": true, "color": "#e9f2fd", "size": 451584, "opacity": 1, "strokeWidth": 0}},
{"data": {"name": "heat"}, "mark": {"type": "square", "size": 961, "opacity": 1, "strokeWidth": 0},
 "encoding": {"color": {"field": "t", "type": "quantitative",
  "scale": {"domain": [-5.81, -4.3575, -2.905, -1.4525, 0, 1.4525, 2.905, 4.3575, 5.81], "range": ["#000080", "#0000ff", "#0080ff", "#00ffff", "#80ff80", "#ffff00", "#ff8000", "#ff0000", "#800000"], "interpolate": "rgb"},
  "legend": {"orient": "none", "legendX": 711, "legendY": -34.3, "direction": "vertical", "gradientLength": 718, "gradientThickness": 46,
   "values": [5, 4, 3, 2, 1, 0, -1, -2, -3, -4, -5], "labelOverlap": false, "labelExpr": "'' + datum.value",
   "labelFont": "Liberation Sans", "labelFontSize": 20.5, "labelColor": "#262626", "labelOffset": 10,
   "title": null,
   "gradientStrokeColor": "#444444", "gradientStrokeWidth": 1}}}},
{"data": {"name": "heat"}, "transform": [{"filter": "datum.x*datum.x + datum.y*datum.y <= 1.25"}], "mark": {"type": "square", "size": 3481, "opacity": 0.35, "strokeWidth": 0},
 "encoding": {"color": {"field": "t", "type": "quantitative"}}},
{"data": {"name": "center"}, "mark": {"type": "point", "shape": "circle", "filled": false, "stroke": "#e9f2fd", "strokeWidth": 16, "size": 430336, "opacity": 1}},
{"data": {"name": "center"}, "mark": {"type": "point", "shape": "circle", "filled": false, "stroke": "#ffffff", "strokeWidth": 40, "size": 506944, "opacity": 1}},
{"data": {"name": "contours"}, "mark": {"type": "line", "color": "#363636", "strokeWidth": 1.2},
 "encoding": {"detail": {"field": "c", "type": "nominal"}, "order": {"field": "i", "type": "quantitative"}}},
{"data": {"name": "center"}, "mark": {"type": "point", "shape": "circle", "filled": false, "stroke": "#000000", "strokeWidth": 5.5, "size": 345744, "opacity": 1}},
{"data": {"name": "head"}, "mark": {"type": "line", "color": "#000000", "strokeWidth": 5, "strokeJoin": "round", "strokeCap": "round"},
 "encoding": {"detail": {"field": "p", "type": "nominal"}, "order": {"field": "i", "type": "quantitative"}}},
{"data": {"name": "elec"}, "mark": {"type": "point", "shape": "circle", "filled": true, "color": "#000000", "size": 72, "opacity": 1, "strokeWidth": 0}},
{"data": {"name": "lab"}, "mark": {"type": "text", "align": "left", "baseline": "alphabetic", "font": "Liberation Sans", "fontSize": 27.5, "fontWeight": "bold", "color": "#000000"},
 "encoding": {"text": {"field": "txt", "type": "nominal"}}},
{"data": {"name": "ttl"}, "mark": {"type": "text", "align": "center", "baseline": "alphabetic", "font": "Liberation Sans", "fontSize": 27.5, "fontWeight": "bold", "color": "#000000"},
 "encoding": {"text": {"field": "txt", "type": "nominal"}}}
]
}
